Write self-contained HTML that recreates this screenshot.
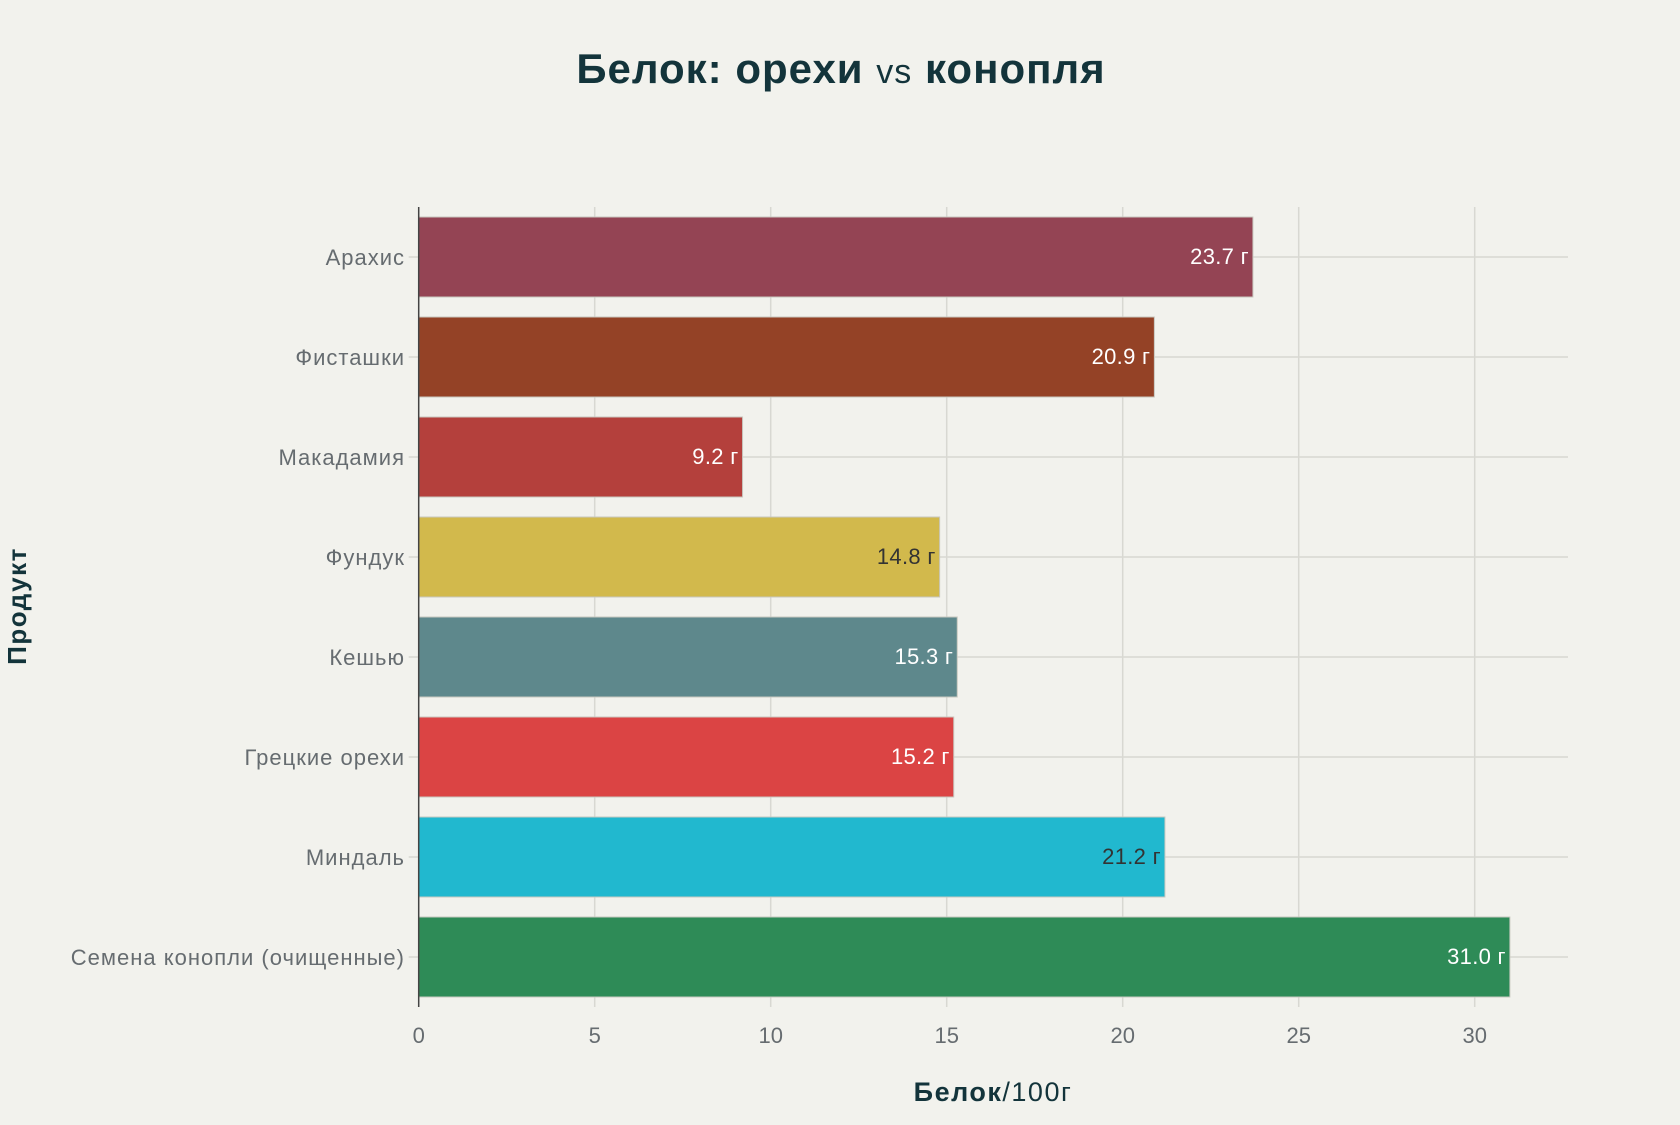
<!DOCTYPE html>
<html><head><meta charset="utf-8"><style>
body{margin:0;background:#f2f2ed;font-family:"Liberation Sans","DejaVu Sans",sans-serif}
</style></head><body>
<svg id="chart" width="1680" height="1120" xmlns="http://www.w3.org/2000/svg">
<rect width="1680" height="1120" fill="#f2f2ed"/>
<text x="841" y="83" text-anchor="middle" font-size="42" font-weight="bold" letter-spacing="1" fill="#13343b">Белок: орехи <tspan font-weight="normal" font-size="34">vs</tspan> конопля</text>
<g id="grid"></g><g id="bars"></g><g id="labels"></g>
<text x="993" y="1101" text-anchor="middle" font-size="27" letter-spacing="1.5" fill="#13343b"><tspan font-weight="bold">Белок</tspan>/100г</text>
<text transform="translate(26,606) rotate(-90)" text-anchor="middle" font-size="26" letter-spacing="1.5" font-weight="bold" fill="#13343b">Продукт</text>
</svg>
<script>
const categories=["Арахис","Фисташки","Макадамия","Фундук","Кешью","Грецкие орехи","Миндаль","Семена конопли (очищенные)"];
const values=[23.7,20.9,9.2,14.8,15.3,15.2,21.2,31.0];
const colors=["#944454","#944226","#b4403c","#d2b94c","#5e888c","#db4444","#21b8cf","#2e8b57"];
const labelColors=["#fff","#fff","#fff","#333","#fff","#fff","#333","#fff"];
const xTicks=[0,5,10,15,20,25,30];
const NS="http://www.w3.org/2000/svg";
const X0=418.7,PX=35.2,Y0=207,BAND=100;
const x=v=>X0+v*PX, yc=i=>Y0+BAND*i+BAND/2;
function mk(t,a,p){const e=document.createElementNS(NS,t);for(const k in a)e.setAttribute(k,a[k]);p.appendChild(e);return e;}
const grid=document.getElementById('grid'),bars=document.getElementById('bars'),labels=document.getElementById('labels');
xTicks.forEach(t=>{
 const l=mk('line',{x1:x(t),x2:x(t),y1:Y0,y2:Y0+800,stroke:'#d8d8d2','stroke-width':1.5},grid);
 
 
 const tl=mk('text',{x:x(t),y:1043,'text-anchor':'middle','font-size':22,fill:'#666c70'},labels);
 tl.textContent=t;
 
 
});
categories.forEach((c,i)=>{
 const gl=mk('line',{x1:X0-10,x2:1568,y1:yc(i),y2:yc(i),stroke:'#d8d8d2','stroke-width':1.5},grid);
 
 
 const r=mk('rect',{x:X0,y:yc(i)-40,width:values[i]*PX,height:80,fill:colors[i],stroke:'#c8c8c0','stroke-width':1},bars);
 
 
 const vl=mk('text',{x:x(values[i])-4,y:yc(i)+7,'text-anchor':'end','font-size':22,'letter-spacing':0.3,fill:labelColors[i]},labels);
 vl.textContent=values[i].toFixed(1)+' г';
 
 
 const cl=mk('text',{x:405,y:yc(i)+8,'text-anchor':'end','font-size':22,'letter-spacing':1,fill:'#666c70'},labels);
 cl.textContent=c;
 
 
});
const ax=mk('line',{x1:X0,x2:X0,y1:Y0,y2:Y0+800,stroke:'#444','stroke-width':1.5},labels);


</script>
</body></html>
